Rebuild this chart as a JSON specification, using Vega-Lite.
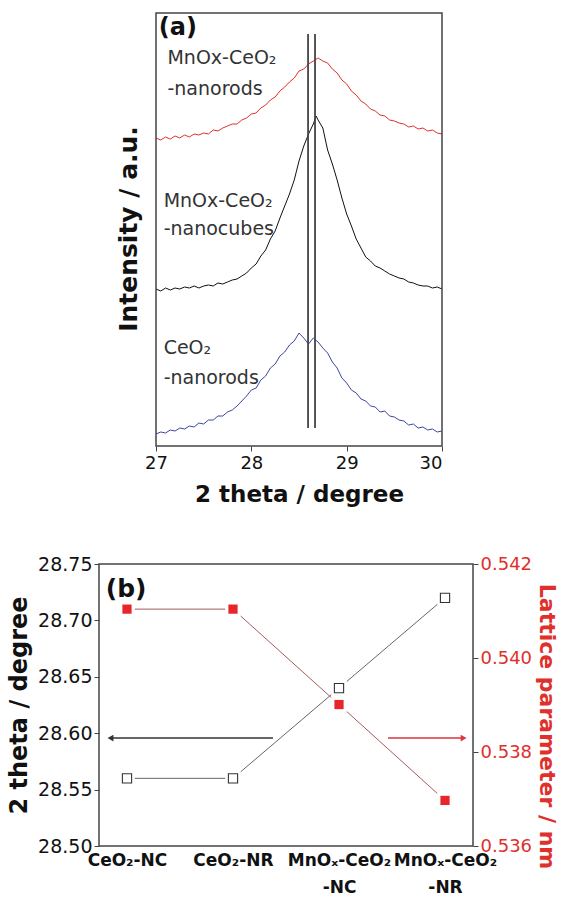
{
"$schema": "https://vega.github.io/schema/vega-lite/v6.json",
"background": "white",
"padding": {"left": 6, "top": 12, "right": 0, "bottom": 0},
"config": {"font": "DejaVu Sans", "view": {"stroke": "#444", "strokeWidth": 1.5}, "axis": {"grid": false, "domain": false, "labelFont": "DejaVu Sans", "titleFont": "DejaVu Sans", "tickColor": "#444"}},
"datasets": {
"xrd": [
{"sample":"r","two_theta":27.00,"intensity":308},{"sample":"r","two_theta":27.05,"intensity":306},{"sample":"r","two_theta":27.10,"intensity":309},{"sample":"r","two_theta":27.15,"intensity":307},{"sample":"r","two_theta":27.20,"intensity":310},{"sample":"r","two_theta":27.25,"intensity":308},{"sample":"r","two_theta":27.30,"intensity":311},{"sample":"r","two_theta":27.35,"intensity":309},{"sample":"r","two_theta":27.40,"intensity":312},{"sample":"r","two_theta":27.45,"intensity":311},{"sample":"r","two_theta":27.50,"intensity":313},{"sample":"r","two_theta":27.55,"intensity":312},{"sample":"r","two_theta":27.60,"intensity":316},{"sample":"r","two_theta":27.65,"intensity":315},{"sample":"r","two_theta":27.70,"intensity":318},{"sample":"r","two_theta":27.75,"intensity":320},{"sample":"r","two_theta":27.80,"intensity":322},{"sample":"r","two_theta":27.85,"intensity":322},{"sample":"r","two_theta":27.90,"intensity":326},{"sample":"r","two_theta":27.95,"intensity":328},{"sample":"r","two_theta":28.00,"intensity":332},{"sample":"r","two_theta":28.05,"intensity":333},{"sample":"r","two_theta":28.10,"intensity":338},{"sample":"r","two_theta":28.15,"intensity":341},{"sample":"r","two_theta":28.20,"intensity":346},{"sample":"r","two_theta":28.25,"intensity":349},{"sample":"r","two_theta":28.30,"intensity":355},{"sample":"r","two_theta":28.35,"intensity":359},{"sample":"r","two_theta":28.40,"intensity":364},{"sample":"r","two_theta":28.45,"intensity":368},{"sample":"r","two_theta":28.50,"intensity":375},{"sample":"r","two_theta":28.55,"intensity":377},{"sample":"r","two_theta":28.60,"intensity":382},{"sample":"r","two_theta":28.65,"intensity":385},{"sample":"r","two_theta":28.70,"intensity":388},{"sample":"r","two_theta":28.75,"intensity":385},{"sample":"r","two_theta":28.80,"intensity":383},{"sample":"r","two_theta":28.85,"intensity":377},{"sample":"r","two_theta":28.90,"intensity":373},{"sample":"r","two_theta":28.95,"intensity":366},{"sample":"r","two_theta":29.00,"intensity":362},{"sample":"r","two_theta":29.05,"intensity":355},{"sample":"r","two_theta":29.10,"intensity":351},{"sample":"r","two_theta":29.15,"intensity":345},{"sample":"r","two_theta":29.20,"intensity":342},{"sample":"r","two_theta":29.25,"intensity":337},{"sample":"r","two_theta":29.30,"intensity":335},{"sample":"r","two_theta":29.35,"intensity":331},{"sample":"r","two_theta":29.40,"intensity":330},{"sample":"r","two_theta":29.45,"intensity":326},{"sample":"r","two_theta":29.50,"intensity":325},{"sample":"r","two_theta":29.55,"intensity":323},{"sample":"r","two_theta":29.60,"intensity":322},{"sample":"r","two_theta":29.65,"intensity":319},{"sample":"r","two_theta":29.70,"intensity":320},{"sample":"r","two_theta":29.75,"intensity":317},{"sample":"r","two_theta":29.80,"intensity":318},{"sample":"r","two_theta":29.85,"intensity":315},{"sample":"r","two_theta":29.90,"intensity":316},{"sample":"r","two_theta":29.95,"intensity":313},{"sample":"r","two_theta":30.00,"intensity":312},
{"sample":"c","two_theta":27.00,"intensity":157},{"sample":"c","two_theta":27.05,"intensity":155},{"sample":"c","two_theta":27.10,"intensity":158},{"sample":"c","two_theta":27.15,"intensity":156},{"sample":"c","two_theta":27.20,"intensity":158},{"sample":"c","two_theta":27.25,"intensity":157},{"sample":"c","two_theta":27.30,"intensity":159},{"sample":"c","two_theta":27.35,"intensity":158},{"sample":"c","two_theta":27.40,"intensity":160},{"sample":"c","two_theta":27.45,"intensity":158},{"sample":"c","two_theta":27.50,"intensity":160},{"sample":"c","two_theta":27.55,"intensity":161},{"sample":"c","two_theta":27.60,"intensity":160},{"sample":"c","two_theta":27.65,"intensity":163},{"sample":"c","two_theta":27.70,"intensity":162},{"sample":"c","two_theta":27.75,"intensity":164},{"sample":"c","two_theta":27.80,"intensity":166},{"sample":"c","two_theta":27.85,"intensity":167},{"sample":"c","two_theta":27.90,"intensity":170},{"sample":"c","two_theta":27.95,"intensity":173},{"sample":"c","two_theta":28.00,"intensity":178},{"sample":"c","two_theta":28.05,"intensity":182},{"sample":"c","two_theta":28.10,"intensity":190},{"sample":"c","two_theta":28.15,"intensity":196},{"sample":"c","two_theta":28.20,"intensity":207},{"sample":"c","two_theta":28.25,"intensity":215},{"sample":"c","two_theta":28.30,"intensity":228},{"sample":"c","two_theta":28.35,"intensity":240},{"sample":"c","two_theta":28.40,"intensity":252},{"sample":"c","two_theta":28.45,"intensity":266},{"sample":"c","two_theta":28.50,"intensity":285},{"sample":"c","two_theta":28.55,"intensity":300},{"sample":"c","two_theta":28.60,"intensity":312},{"sample":"c","two_theta":28.65,"intensity":322},{"sample":"c","two_theta":28.68,"intensity":330},{"sample":"c","two_theta":28.70,"intensity":326},{"sample":"c","two_theta":28.75,"intensity":318},{"sample":"c","two_theta":28.80,"intensity":296},{"sample":"c","two_theta":28.85,"intensity":282},{"sample":"c","two_theta":28.90,"intensity":266},{"sample":"c","two_theta":28.95,"intensity":248},{"sample":"c","two_theta":29.00,"intensity":232},{"sample":"c","two_theta":29.05,"intensity":220},{"sample":"c","two_theta":29.10,"intensity":207},{"sample":"c","two_theta":29.15,"intensity":198},{"sample":"c","two_theta":29.20,"intensity":189},{"sample":"c","two_theta":29.25,"intensity":185},{"sample":"c","two_theta":29.30,"intensity":180},{"sample":"c","two_theta":29.35,"intensity":178},{"sample":"c","two_theta":29.40,"intensity":175},{"sample":"c","two_theta":29.45,"intensity":172},{"sample":"c","two_theta":29.50,"intensity":170},{"sample":"c","two_theta":29.55,"intensity":168},{"sample":"c","two_theta":29.60,"intensity":167},{"sample":"c","two_theta":29.65,"intensity":164},{"sample":"c","two_theta":29.70,"intensity":163},{"sample":"c","two_theta":29.75,"intensity":161},{"sample":"c","two_theta":29.80,"intensity":160},{"sample":"c","two_theta":29.85,"intensity":160},{"sample":"c","two_theta":29.90,"intensity":158},{"sample":"c","two_theta":29.95,"intensity":159},{"sample":"c","two_theta":30.00,"intensity":157},
{"sample":"b","two_theta":27.00,"intensity":12},{"sample":"b","two_theta":27.05,"intensity":14},{"sample":"b","two_theta":27.10,"intensity":13},{"sample":"b","two_theta":27.15,"intensity":16},{"sample":"b","two_theta":27.20,"intensity":15},{"sample":"b","two_theta":27.25,"intensity":18},{"sample":"b","two_theta":27.30,"intensity":17},{"sample":"b","two_theta":27.35,"intensity":20},{"sample":"b","two_theta":27.40,"intensity":19},{"sample":"b","two_theta":27.45,"intensity":23},{"sample":"b","two_theta":27.50,"intensity":22},{"sample":"b","two_theta":27.55,"intensity":26},{"sample":"b","two_theta":27.60,"intensity":26},{"sample":"b","two_theta":27.65,"intensity":30},{"sample":"b","two_theta":27.70,"intensity":30},{"sample":"b","two_theta":27.75,"intensity":34},{"sample":"b","two_theta":27.80,"intensity":36},{"sample":"b","two_theta":27.85,"intensity":40},{"sample":"b","two_theta":27.90,"intensity":45},{"sample":"b","two_theta":27.95,"intensity":50},{"sample":"b","two_theta":28.00,"intensity":56},{"sample":"b","two_theta":28.05,"intensity":58},{"sample":"b","two_theta":28.10,"intensity":66},{"sample":"b","two_theta":28.15,"intensity":70},{"sample":"b","two_theta":28.20,"intensity":78},{"sample":"b","two_theta":28.25,"intensity":82},{"sample":"b","two_theta":28.30,"intensity":90},{"sample":"b","two_theta":28.35,"intensity":94},{"sample":"b","two_theta":28.40,"intensity":101},{"sample":"b","two_theta":28.45,"intensity":105},{"sample":"b","two_theta":28.50,"intensity":113},{"sample":"b","two_theta":28.55,"intensity":108},{"sample":"b","two_theta":28.60,"intensity":102},{"sample":"b","two_theta":28.65,"intensity":108},{"sample":"b","two_theta":28.70,"intensity":104},{"sample":"b","two_theta":28.75,"intensity":98},{"sample":"b","two_theta":28.80,"intensity":93},{"sample":"b","two_theta":28.85,"intensity":84},{"sample":"b","two_theta":28.90,"intensity":78},{"sample":"b","two_theta":28.95,"intensity":68},{"sample":"b","two_theta":29.00,"intensity":63},{"sample":"b","two_theta":29.05,"intensity":56},{"sample":"b","two_theta":29.10,"intensity":53},{"sample":"b","two_theta":29.15,"intensity":47},{"sample":"b","two_theta":29.20,"intensity":45},{"sample":"b","two_theta":29.25,"intensity":40},{"sample":"b","two_theta":29.30,"intensity":39},{"sample":"b","two_theta":29.35,"intensity":34},{"sample":"b","two_theta":29.40,"intensity":35},{"sample":"b","two_theta":29.45,"intensity":30},{"sample":"b","two_theta":29.50,"intensity":29},{"sample":"b","two_theta":29.55,"intensity":26},{"sample":"b","two_theta":29.60,"intensity":25},{"sample":"b","two_theta":29.65,"intensity":21},{"sample":"b","two_theta":29.70,"intensity":22},{"sample":"b","two_theta":29.75,"intensity":18},{"sample":"b","two_theta":29.80,"intensity":19},{"sample":"b","two_theta":29.85,"intensity":16},{"sample":"b","two_theta":29.90,"intensity":17},{"sample":"b","two_theta":29.95,"intensity":14},{"sample":"b","two_theta":30.00,"intensity":15}
],
"frameA": [{"left": 27, "right": 30, "low": 0, "high": 433}],
"refLines": [{"two_theta": 28.595, "top": 412, "bottom": 18}, {"two_theta": 28.668, "top": 412, "bottom": 18}],
"labelsA": [
{"text": "MnOx-CeO₂", "two_theta": 27.12, "intensity": 388},
{"text": "-nanorods", "two_theta": 27.12, "intensity": 357},
{"text": "MnOx-CeO₂", "two_theta": 27.08, "intensity": 245},
{"text": "-nanocubes", "two_theta": 27.08, "intensity": 217},
{"text": "CeO₂", "two_theta": 27.08, "intensity": 98},
{"text": "-nanorods", "two_theta": 27.08, "intensity": 68}
],
"tagA": [{"text": "(a)", "two_theta": 27.03, "intensity": 418}],
"ytitleA": [{"text": "Intensity / a.u.", "two_theta": 26.717, "intensity": 217}],
"samples": [
{"sample": "CeO₂-NC", "two_theta": 28.56, "lattice": 0.54104},
{"sample": "CeO₂-NR", "two_theta": 28.56, "lattice": 0.54104},
{"sample": "MnOₓ-CeO₂|-NC", "two_theta": 28.64, "lattice": 0.53901},
{"sample": "MnOₓ-CeO₂|-NR", "two_theta": 28.72, "lattice": 0.53697}
],
"arrows": [
{"arrow": "theta", "start": 0.83, "end": 2.377, "head": 0.845, "dir": "left", "level": 28.5957},
{"arrow": "lattice", "start": 3.462, "end": 4.19, "head": 4.175, "dir": "right", "level": 28.5957}
],
"tagB": [{"text": "(b)", "pos": 0.80, "level": 28.728}]
},
"spacing": 48,
"resolve": {"scale": {"color": "independent", "shape": "independent"}},
"vconcat": [
{
"width": 343, "height": 433,
"view": {"stroke": null},
"layer": [
{"data": {"name": "xrd"}, "mark": {"type": "line", "strokeWidth": 1},
 "encoding": {
  "x": {"field": "two_theta", "type": "quantitative", "scale": {"domain": [26.402, 30], "nice": false, "zero": false},
        "axis": {"values": [27, 28, 29, 30], "format": "d", "labelFontSize": 18, "labelColor": "#111", "tickSize": 5, "labelPadding": 3, "title": "2 theta / degree", "titleX": 200, "titleAlign": "center", "titleFontSize": 23, "titleFontWeight": "bold", "titleColor": "#111", "titlePadding": 11}},
  "y": {"field": "intensity", "type": "quantitative", "scale": {"domain": [0, 433], "nice": false}, "axis": null},
  "color": {"field": "sample", "type": "nominal", "scale": {"domain": ["r", "c", "b"], "range": ["#e0302c", "#111111", "#3b46a0"]}, "legend": null}
 }},
{"data": {"name": "frameA"}, "mark": {"type": "rect", "filled": false, "stroke": "#444", "strokeWidth": 1.5},
 "encoding": {"x": {"field": "left", "type": "quantitative"}, "x2": {"field": "right"}, "y": {"field": "low", "type": "quantitative"}, "y2": {"field": "high"}}},
{"data": {"name": "refLines"}, "mark": {"type": "rule", "color": "#444", "strokeWidth": 1.8},
 "encoding": {"x": {"field": "two_theta", "type": "quantitative"}, "y": {"field": "top", "type": "quantitative"}, "y2": {"field": "bottom"}}},
{"data": {"name": "labelsA"}, "mark": {"type": "text", "align": "left", "baseline": "middle", "fontSize": 19, "color": "#333"},
 "encoding": {"x": {"field": "two_theta", "type": "quantitative"}, "y": {"field": "intensity", "type": "quantitative"}, "text": {"field": "text"}}},
{"data": {"name": "tagA"}, "mark": {"type": "text", "align": "left", "baseline": "middle", "fontSize": 24, "fontWeight": "bold", "color": "#111"},
 "encoding": {"x": {"field": "two_theta", "type": "quantitative"}, "y": {"field": "intensity", "type": "quantitative"}, "text": {"field": "text"}}},
{"data": {"name": "ytitleA"}, "mark": {"type": "text", "align": "center", "baseline": "middle", "angle": 270, "fontSize": 25, "fontWeight": "bold", "color": "#111"},
 "encoding": {"x": {"field": "two_theta", "type": "quantitative"}, "y": {"field": "intensity", "type": "quantitative"}, "text": {"field": "text"}}}
]
},
{
"width": 374, "height": 282,
"layer": [
{"data": {"name": "samples"},
 "encoding": {
  "x": {"field": "sample", "type": "ordinal", "sort": null, "scale": {"type": "point", "padding": 0.264},
        "axis": {"title": null, "labelExpr": "split(datum.label, '|')", "labelFontWeight": "bold", "labelFontSize": 17, "labelColor": "#111", "ticks": false, "labelPadding": 6, "labelLineHeight": 27, "labelAngle": 0}},
  "y": {"field": "two_theta", "type": "quantitative", "scale": {"domain": [28.5, 28.75], "nice": false, "zero": false},
        "axis": {"values": [28.5, 28.55, 28.6, 28.65, 28.7, 28.75], "format": ".2f", "labelFontSize": 19, "labelColor": "#111", "tickSize": 5, "labelPadding": 2, "title": "2 theta / degree", "titleFontSize": 24, "titleFontWeight": "bold", "titleColor": "#111", "titlePadding": 6}}
 },
 "layer": [
  {"mark": {"type": "line", "color": "#666", "strokeWidth": 1}},
  {"mark": {"type": "point", "shape": "square", "filled": true, "color": "white", "size": 240, "opacity": 1}},
  {"mark": {"type": "point", "shape": "square", "fill": "white", "stroke": "#333", "strokeWidth": 1.1, "size": 85, "opacity": 1}}
 ]},
{"data": {"name": "samples"},
 "encoding": {
  "x": {"field": "sample", "type": "ordinal", "sort": null, "scale": {"type": "point", "padding": 0.264}, "axis": null},
  "y": {"field": "lattice", "type": "quantitative", "scale": {"domain": [0.536, 0.542], "nice": false, "zero": false},
        "axis": {"orient": "right", "values": [0.536, 0.538, 0.540, 0.542], "format": ".3f", "labelFontSize": 18, "labelColor": "#e0302c", "tickSize": 5, "labelPadding": 2, "title": "Lattice parameter / nm", "titleFontSize": 22, "titleFontWeight": "bold", "titleColor": "#e0302c", "titlePadding": 3, "titleY": 162}}
 },
 "layer": [
  {"mark": {"type": "line", "color": "#a85a5a", "strokeWidth": 1}},
  {"mark": {"type": "point", "shape": "square", "filled": true, "color": "white", "size": 240, "opacity": 1}},
  {"mark": {"type": "point", "shape": "square", "filled": true, "color": "#e8262a", "size": 85, "opacity": 1}}
 ]},
{"layer": [
  {"data": {"name": "arrows"}, "mark": {"type": "rule", "strokeWidth": 1.5},
   "encoding": {"x": {"field": "start", "type": "quantitative", "scale": {"domain": [0.736, 4.264], "nice": false, "zero": false}, "axis": null},
                "x2": {"field": "end"},
                "y": {"field": "level", "type": "quantitative", "scale": {"domain": [28.5, 28.75], "nice": false, "zero": false}, "axis": null},
                "color": {"field": "arrow", "type": "nominal", "scale": {"domain": ["theta", "lattice"], "range": ["#333333", "#d9363e"]}, "legend": null}}},
  {"data": {"name": "arrows"}, "mark": {"type": "point", "filled": true, "size": 45, "opacity": 1},
   "encoding": {"x": {"field": "head", "type": "quantitative"},
                "y": {"field": "level", "type": "quantitative"},
                "shape": {"field": "dir", "type": "nominal", "scale": {"domain": ["left", "right"], "range": ["triangle-left", "triangle-right"]}, "legend": null},
                "color": {"field": "arrow", "type": "nominal", "scale": {"domain": ["theta", "lattice"], "range": ["#333333", "#d9363e"]}, "legend": null}}},
  {"data": {"name": "tagB"}, "mark": {"type": "text", "align": "left", "baseline": "middle", "fontSize": 25, "fontWeight": "bold", "color": "#111"},
   "encoding": {"x": {"field": "pos", "type": "quantitative"}, "y": {"field": "level", "type": "quantitative"}, "text": {"field": "text"}}}
 ]}
],
"resolve": {"scale": {"x": "independent", "y": "independent"}, "axis": {"x": "independent", "y": "independent"}}
}
]
}
